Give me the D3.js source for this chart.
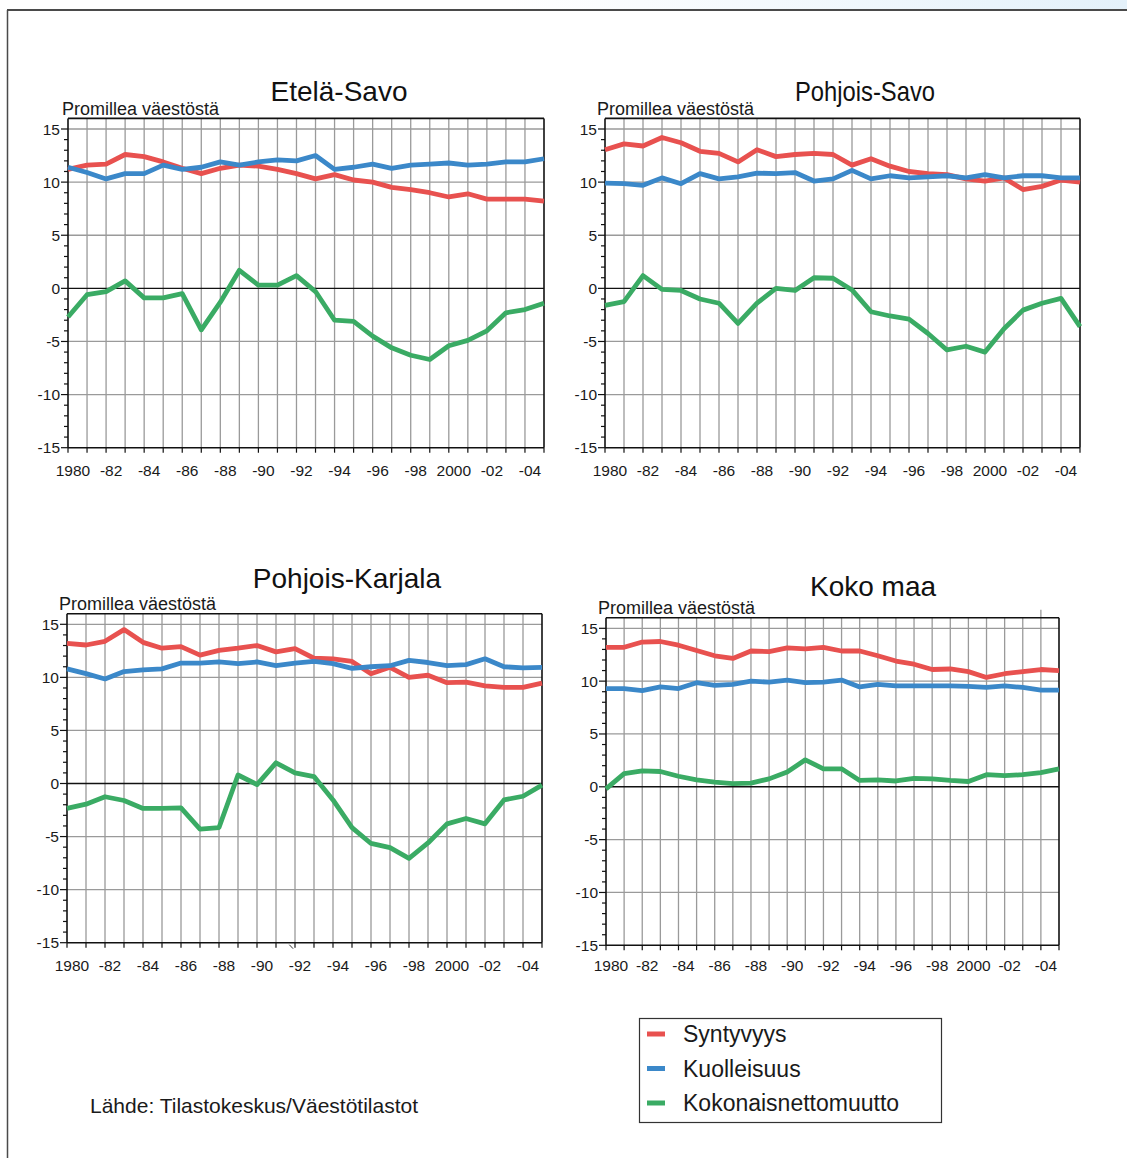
<!DOCTYPE html>
<html><head><meta charset="utf-8">
<script src="https://cdn.jsdelivr.net/npm/d3@7"></script>
<style>
body{margin:0;background:#fff}
svg{display:block;font-family:"Liberation Sans",Arial,Helvetica,sans-serif}
</style>
</head><body>
<svg id="c" width="1127" height="1158"></svg>
<script>
// ---------- DATA ----------
const years = [1980,1981,1982,1983,1984,1985,1986,1987,1988,1989,1990,1991,1992,1993,1994,1995,1996,1997,1998,1999,2000,2001,2002,2003,2004,2005];
const xTickYears = [1980,1982,1984,1986,1988,1990,1992,1994,1996,1998,2000,2002,2004];
const xTickLabels = ["1980","-82","-84","-86","-88","-90","-92","-94","-96","-98","2000","-02","-04"];
const yTicks = [-15,-10,-5,0,5,10,15];
const yTickLabels = ["-15","-10","-5","0","5","10","15"];
const seriesNames = ["Syntyvyys","Kuolleisuus","Kokonaisnettomuutto"];
const panelTitles = ["Etelä-Savo","Pohjois-Savo","Pohjois-Karjala","Koko maa"];
const unitLabel = "Promillea väestöstä";
const sourceText = "Lähde: Tilastokeskus/Väestötilastot";

const etelaSavoBirths = [11.2,11.6,11.7,12.6,12.4,11.9,11.3,10.8,11.3,11.6,11.5,11.2,10.8,10.3,10.7,10.2,10.0,9.5,9.3,9.0,8.6,8.9,8.4,8.4,8.4,8.2];
const etelaSavoDeaths = [11.4,10.9,10.3,10.8,10.8,11.6,11.2,11.4,11.9,11.6,11.9,12.1,12.0,12.5,11.2,11.4,11.7,11.3,11.6,11.7,11.8,11.6,11.7,11.9,11.9,12.2];
const etelaSavoNet = [-2.7,-0.6,-0.3,0.7,-0.9,-0.9,-0.5,-3.9,-1.3,1.7,0.3,0.3,1.2,-0.3,-3.0,-3.1,-4.5,-5.6,-6.3,-6.7,-5.4,-4.9,-4.0,-2.3,-2.0,-1.4];

const pohjoisSavoBirths = [13.05,13.6,13.4,14.2,13.7,12.9,12.7,11.9,13.05,12.4,12.6,12.7,12.6,11.6,12.2,11.5,11.0,10.8,10.7,10.3,10.1,10.4,9.3,9.6,10.2,10.0];
const pohjoisSavoDeaths = [9.9,9.85,9.7,10.4,9.85,10.8,10.3,10.5,10.85,10.8,10.9,10.1,10.3,11.1,10.3,10.6,10.4,10.5,10.6,10.4,10.7,10.4,10.6,10.6,10.4,10.4];
const pohjoisSavoNet = [-1.6,-1.25,1.2,-0.1,-0.2,-1.0,-1.4,-3.3,-1.4,0.0,-0.2,1.0,0.95,-0.15,-2.2,-2.6,-2.9,-4.25,-5.8,-5.45,-6.0,-3.8,-2.05,-1.4,-0.95,-3.6];

const pohjoisKarjalaBirths = [13.2,13.05,13.4,14.5,13.3,12.75,12.9,12.1,12.55,12.75,13.0,12.4,12.7,11.8,11.75,11.5,10.35,10.95,10.0,10.2,9.5,9.55,9.2,9.05,9.05,9.45];
const pohjoisKarjalaDeaths = [10.8,10.35,9.85,10.55,10.7,10.8,11.35,11.35,11.45,11.3,11.45,11.1,11.35,11.5,11.3,10.85,11.0,11.1,11.6,11.4,11.1,11.2,11.75,11.0,10.9,10.95];
const pohjoisKarjalaNet = [-2.35,-1.95,-1.25,-1.6,-2.35,-2.35,-2.3,-4.3,-4.15,0.8,-0.1,1.95,1.0,0.65,-1.55,-4.15,-5.65,-6.05,-7.05,-5.6,-3.8,-3.3,-3.8,-1.55,-1.2,-0.15];

const kokoMaaBirths = [13.2,13.2,13.7,13.75,13.4,12.9,12.4,12.15,12.85,12.8,13.15,13.05,13.2,12.85,12.85,12.4,11.9,11.6,11.1,11.15,10.9,10.35,10.7,10.9,11.1,11.0];
const kokoMaaDeaths = [9.3,9.3,9.1,9.45,9.3,9.85,9.6,9.7,10.0,9.9,10.1,9.85,9.9,10.1,9.45,9.7,9.55,9.55,9.55,9.55,9.5,9.4,9.55,9.4,9.15,9.15];
const kokoMaaNet = [-0.2,1.25,1.5,1.45,1.0,0.65,0.45,0.3,0.35,0.75,1.4,2.55,1.7,1.7,0.6,0.65,0.55,0.8,0.75,0.6,0.5,1.15,1.05,1.15,1.35,1.7];

// ---------- STYLE / LAYOUT ----------
const colors = ["#e8514f","#3b88c9","#3aab64"];
const panelData = [
  [etelaSavoBirths, etelaSavoDeaths, etelaSavoNet],
  [pohjoisSavoBirths, pohjoisSavoDeaths, pohjoisSavoNet],
  [pohjoisKarjalaBirths, pohjoisKarjalaDeaths, pohjoisKarjalaNet],
  [kokoMaaBirths, kokoMaaDeaths, kokoMaaNet]
];
const layout = [
  {x0:68, x1:544, y15:129, yB:447.7, tx:339, ty:101, ux:62, uy:115, ly:476, tl:null},
  {x0:605, x1:1080, y15:129, yB:447.7, tx:865, ty:101, ux:597, uy:115, ly:476, tl:140},
  {x0:67, x1:542, y15:624.3, yB:942.7, tx:347, ty:588, ux:59, uy:610, ly:971, tl:null},
  {x0:606, x1:1059, y15:628.3, yB:945.3, tx:873, ty:596, ux:598, uy:614, ly:971, tl:null}
];

const svg = d3.select("#c");

// background decoration: top gradient band + outer frame
const defs = svg.append("defs");
const grad = defs.append("linearGradient").attr("id","topg").attr("x1","0").attr("x2","1");
grad.append("stop").attr("offset","0").attr("stop-color","#ffffff");
grad.append("stop").attr("offset","0.45").attr("stop-color","#ffffff");
grad.append("stop").attr("offset","1").attr("stop-color","#e4f1fa");
svg.append("rect").attr("x",0).attr("y",0).attr("width",1127).attr("height",10).attr("fill","url(#topg)");
svg.append("line").attr("x1",7).attr("x2",1127).attr("y1",10).attr("y2",10).attr("stroke","#4a4a4a").attr("stroke-width",2);
svg.append("line").attr("x1",7.5).attr("x2",7.5).attr("y1",10).attr("y2",1158).attr("stroke","#4a4a4a").attr("stroke-width",1.5);

panelData.forEach((series, pi) => {
  const L = layout[pi];
  const x = d3.scaleLinear().domain([1980, 2005]).range([L.x0, L.x1]);
  const y = d3.scaleLinear().domain([-15, 15]).range([L.yB, L.y15]);
  const g = svg.append("g");
  const yTop = y(16);

  // vertical grid lines
  g.selectAll("line.vg").data(years.slice(1, -1)).join("line")
    .attr("x1", d => x(d)).attr("x2", d => x(d))
    .attr("y1", d => (pi === 3 && d === 2004) ? yTop - 8 : yTop).attr("y2", L.yB)
    .attr("stroke", "#9a9a9a").attr("stroke-width", 1.3);
  // horizontal grid lines
  g.selectAll("line.hg").data(yTicks.filter(v => v !== 0 && v !== -15)).join("line")
    .attr("x1", L.x0).attr("x2", L.x1).attr("y1", d => y(d)).attr("y2", d => y(d))
    .attr("stroke", "#9a9a9a").attr("stroke-width", 1.3);

  // frame: top, right, zero line
  g.append("line").attr("x1", L.x0).attr("x2", L.x1).attr("y1", yTop).attr("y2", yTop).attr("stroke","#111").attr("stroke-width",1.6);
  g.append("line").attr("x1", L.x1).attr("x2", L.x1).attr("y1", yTop).attr("y2", L.yB).attr("stroke","#111").attr("stroke-width",1.6);
  g.append("line").attr("x1", L.x0).attr("x2", L.x1).attr("y1", y(0)).attr("y2", y(0)).attr("stroke","#111").attr("stroke-width",1.4);

  // y axis
  const yMinor = d3.range(-15, 16, 1);
  g.selectAll("line.ymin").data(yMinor).join("line")
    .attr("x1", d => L.x0 - (d % 5 === 0 ? 7 : 4)).attr("x2", L.x0)
    .attr("y1", d => y(d)).attr("y2", d => y(d))
    .attr("stroke", "#111").attr("stroke-width", 1.2);
  g.append("line").attr("x1", L.x0).attr("x2", L.x0).attr("y1", yTop).attr("y2", L.yB).attr("stroke","#111").attr("stroke-width",1.6);
  g.selectAll("text.yl").data(yTicks).join("text")
    .attr("x", L.x0 - 8).attr("y", d => y(d) + 5.5)
    .attr("text-anchor", "end").attr("font-size", 15.5).attr("fill", "#1a1a1a")
    .text((d, i) => yTickLabels[i]);

  // x axis
  g.append("line").attr("x1", L.x0).attr("x2", L.x1).attr("y1", L.yB).attr("y2", L.yB).attr("stroke","#111").attr("stroke-width",1.6);
  g.selectAll("line.xt").data(years).join("line")
    .attr("x1", d => x(d)).attr("x2", d => x(d)).attr("y1", L.yB).attr("y2", L.yB + 5)
    .attr("stroke", "#111").attr("stroke-width", 1.2);
  g.selectAll("text.xl").data(xTickYears).join("text")
    .attr("x", d => x(d) + 5).attr("y", L.ly)
    .attr("text-anchor", "middle").attr("font-size", 15.5).attr("fill", "#1a1a1a")
    .text((d, i) => xTickLabels[i]);

  if (pi === 2) {
    g.append("line").attr("x1", x(1991.7)).attr("x2", x(1991.9)).attr("y1", L.yB + 2).attr("y2", L.yB + 6)
      .attr("stroke", "#333").attr("stroke-width", 1);
  }

  // series lines
  const line = d3.line().x((d, i) => x(years[i])).y(d => y(d));
  series.forEach((vals, si) => {
    g.append("path").datum(vals).attr("d", line)
      .attr("fill", "none").attr("stroke", colors[si]).attr("stroke-width", 4.8)
      .attr("stroke-linejoin", "round");
  });

  // titles
  const t = g.append("text").attr("x", L.tx).attr("y", L.ty).attr("text-anchor", "middle")
    .attr("font-size", 28).attr("fill", "#111").text(panelTitles[pi]);
  if (L.tl) t.attr("textLength", L.tl).attr("lengthAdjust", "spacingAndGlyphs");
  g.append("text").attr("x", L.ux).attr("y", L.uy)
    .attr("font-size", 18).attr("fill", "#1a1a1a").text(unitLabel);
});

// legend
const lg = svg.append("g");
lg.append("rect").attr("x", 639.5).attr("y", 1018.5).attr("width", 302).attr("height", 104)
  .attr("fill", "#fff").attr("stroke", "#333").attr("stroke-width", 1.2);
const legY = d3.scalePoint().domain(seriesNames).range([1034, 1103]);
seriesNames.forEach((name, i) => {
  lg.append("line").attr("x1", 647).attr("x2", 665).attr("y1", legY(name)).attr("y2", legY(name))
    .attr("stroke", colors[i]).attr("stroke-width", 5);
  lg.append("text").attr("x", 683).attr("y", legY(name) + 8).attr("font-size", 23)
    .attr("fill", "#1a1a1a").text(name);
});

svg.append("text").attr("x", 90).attr("y", 1113).attr("font-size", 21).attr("fill", "#1a1a1a").text(sourceText);
</script>
</body></html>
